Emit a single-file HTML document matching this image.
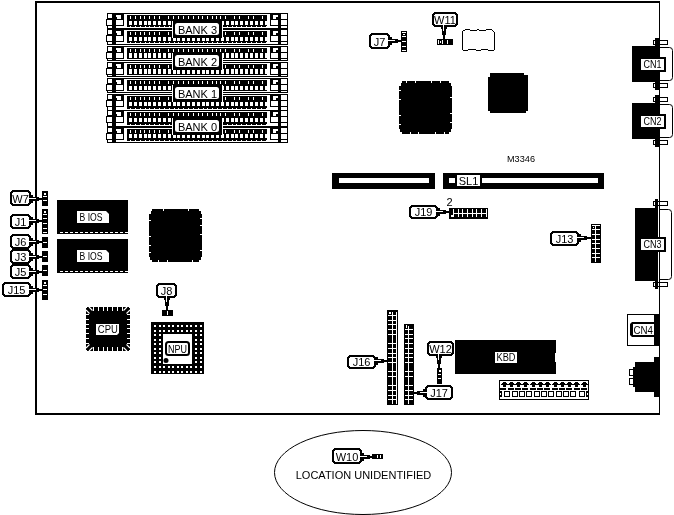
<!DOCTYPE html>
<html><head><meta charset="utf-8"><style>
html,body{margin:0;padding:0;background:#fff;width:674px;height:515px;overflow:hidden}
svg{display:block}
text{font-family:"Liberation Sans",sans-serif;fill:#000}
svg{will-change:transform}
</style></head><body>
<svg width="674" height="515" viewBox="0 0 674 515">
<rect x="35" y="1" width="625" height="2" fill="#000"/>
<rect x="35" y="1" width="2" height="414" fill="#000"/>
<rect x="659" y="1" width="1" height="414" fill="#000"/>
<rect x="35" y="413" width="625" height="2" fill="#000"/>
<rect x="107" y="13" width="181" height="1" fill="#000"/>
<rect x="112" y="14" width="175" height="14" fill="#fff"/>
<rect x="107" y="13" width="5" height="16" fill="#000"/>
<rect x="106" y="19" width="1" height="7" fill="#000"/>
<rect x="108" y="14" width="4" height="4" fill="#fff"/>
<rect x="107" y="20" width="5" height="5" fill="#fff"/>
<rect x="108" y="26" width="4" height="2" fill="#fff"/>
<rect x="112" y="13" width="4" height="15" fill="#000"/>
<rect x="116" y="13" width="8" height="13" fill="#000"/>
<rect x="116" y="15" width="5" height="2" fill="#fff"/>
<rect x="117" y="17" width="4" height="2" fill="#fff"/>
<rect x="116" y="20" width="7" height="5" fill="#fff"/>
<rect x="127" y="15" width="140" height="12" fill="#000"/>
<rect x="129" y="21" width="3" height="4" fill="#fff"/>
<rect x="130" y="26" width="1" height="1" fill="#fff"/>
<rect x="134" y="21" width="3" height="4" fill="#fff"/>
<rect x="135" y="26" width="1" height="1" fill="#fff"/>
<rect x="139" y="21" width="3" height="4" fill="#fff"/>
<rect x="140" y="26" width="1" height="1" fill="#fff"/>
<rect x="144" y="21" width="3" height="4" fill="#fff"/>
<rect x="145" y="26" width="1" height="1" fill="#fff"/>
<rect x="148" y="21" width="3" height="4" fill="#fff"/>
<rect x="149" y="26" width="1" height="1" fill="#fff"/>
<rect x="153" y="21" width="3" height="4" fill="#fff"/>
<rect x="154" y="26" width="1" height="1" fill="#fff"/>
<rect x="158" y="21" width="3" height="4" fill="#fff"/>
<rect x="159" y="26" width="1" height="1" fill="#fff"/>
<rect x="163" y="21" width="3" height="4" fill="#fff"/>
<rect x="164" y="26" width="1" height="1" fill="#fff"/>
<rect x="168" y="21" width="3" height="4" fill="#fff"/>
<rect x="169" y="26" width="1" height="1" fill="#fff"/>
<rect x="173" y="21" width="3" height="4" fill="#fff"/>
<rect x="174" y="26" width="1" height="1" fill="#fff"/>
<rect x="177" y="21" width="3" height="4" fill="#fff"/>
<rect x="178" y="26" width="1" height="1" fill="#fff"/>
<rect x="182" y="21" width="3" height="4" fill="#fff"/>
<rect x="183" y="26" width="1" height="1" fill="#fff"/>
<rect x="187" y="21" width="3" height="4" fill="#fff"/>
<rect x="188" y="26" width="1" height="1" fill="#fff"/>
<rect x="192" y="21" width="3" height="4" fill="#fff"/>
<rect x="193" y="26" width="1" height="1" fill="#fff"/>
<rect x="197" y="21" width="3" height="4" fill="#fff"/>
<rect x="198" y="26" width="1" height="1" fill="#fff"/>
<rect x="202" y="21" width="3" height="4" fill="#fff"/>
<rect x="203" y="26" width="1" height="1" fill="#fff"/>
<rect x="206" y="21" width="3" height="4" fill="#fff"/>
<rect x="207" y="26" width="1" height="1" fill="#fff"/>
<rect x="211" y="21" width="3" height="4" fill="#fff"/>
<rect x="212" y="26" width="1" height="1" fill="#fff"/>
<rect x="216" y="21" width="3" height="4" fill="#fff"/>
<rect x="217" y="26" width="1" height="1" fill="#fff"/>
<rect x="221" y="21" width="3" height="4" fill="#fff"/>
<rect x="222" y="26" width="1" height="1" fill="#fff"/>
<rect x="226" y="21" width="3" height="4" fill="#fff"/>
<rect x="227" y="26" width="1" height="1" fill="#fff"/>
<rect x="231" y="21" width="3" height="4" fill="#fff"/>
<rect x="232" y="26" width="1" height="1" fill="#fff"/>
<rect x="235" y="21" width="3" height="4" fill="#fff"/>
<rect x="236" y="26" width="1" height="1" fill="#fff"/>
<rect x="240" y="21" width="3" height="4" fill="#fff"/>
<rect x="241" y="26" width="1" height="1" fill="#fff"/>
<rect x="245" y="21" width="3" height="4" fill="#fff"/>
<rect x="246" y="26" width="1" height="1" fill="#fff"/>
<rect x="250" y="21" width="3" height="4" fill="#fff"/>
<rect x="251" y="26" width="1" height="1" fill="#fff"/>
<rect x="255" y="21" width="3" height="4" fill="#fff"/>
<rect x="256" y="26" width="1" height="1" fill="#fff"/>
<rect x="260" y="21" width="3" height="4" fill="#fff"/>
<rect x="261" y="26" width="1" height="1" fill="#fff"/>
<rect x="265" y="21" width="3" height="4" fill="#fff"/>
<rect x="266" y="26" width="1" height="1" fill="#fff"/>
<rect x="130" y="16" width="1" height="3" fill="#fff"/>
<rect x="135" y="16" width="1" height="3" fill="#fff"/>
<rect x="140" y="16" width="1" height="3" fill="#fff"/>
<rect x="144" y="16" width="1" height="3" fill="#fff"/>
<rect x="149" y="16" width="1" height="3" fill="#fff"/>
<rect x="154" y="16" width="1" height="3" fill="#fff"/>
<rect x="159" y="16" width="1" height="3" fill="#fff"/>
<rect x="168" y="16" width="1" height="3" fill="#fff"/>
<rect x="173" y="16" width="1" height="3" fill="#fff"/>
<rect x="178" y="16" width="1" height="3" fill="#fff"/>
<rect x="183" y="16" width="1" height="3" fill="#fff"/>
<rect x="188" y="16" width="1" height="3" fill="#fff"/>
<rect x="193" y="16" width="1" height="3" fill="#fff"/>
<rect x="198" y="16" width="1" height="3" fill="#fff"/>
<rect x="202" y="16" width="1" height="3" fill="#fff"/>
<rect x="207" y="16" width="1" height="3" fill="#fff"/>
<rect x="212" y="16" width="1" height="3" fill="#fff"/>
<rect x="216" y="16" width="1" height="3" fill="#fff"/>
<rect x="220" y="16" width="1" height="3" fill="#fff"/>
<rect x="225" y="16" width="1" height="3" fill="#fff"/>
<rect x="234" y="16" width="1" height="3" fill="#fff"/>
<rect x="239" y="16" width="1" height="3" fill="#fff"/>
<rect x="248" y="16" width="1" height="3" fill="#fff"/>
<rect x="253" y="16" width="1" height="3" fill="#fff"/>
<rect x="262" y="16" width="1" height="3" fill="#fff"/>
<rect x="270" y="13" width="8" height="13" fill="#000"/>
<rect x="273" y="15" width="5" height="2" fill="#fff"/>
<rect x="273" y="17" width="3" height="2" fill="#fff"/>
<rect x="271" y="20" width="7" height="5" fill="#fff"/>
<rect x="278" y="13" width="3" height="15" fill="#000"/>
<rect x="281" y="13" width="7" height="16" fill="#000"/>
<rect x="281" y="14" width="6" height="5" fill="#fff"/>
<rect x="281" y="20" width="6" height="5" fill="#fff"/>
<rect x="281" y="26" width="6" height="2" fill="#fff"/>
<rect x="107" y="28" width="181" height="1" fill="#000"/>
<rect x="107" y="29" width="181" height="1" fill="#000"/>
<rect x="112" y="30" width="175" height="14" fill="#fff"/>
<rect x="107" y="29" width="5" height="16" fill="#000"/>
<rect x="106" y="35" width="1" height="7" fill="#000"/>
<rect x="108" y="30" width="4" height="4" fill="#fff"/>
<rect x="107" y="36" width="5" height="5" fill="#fff"/>
<rect x="108" y="42" width="4" height="2" fill="#fff"/>
<rect x="112" y="29" width="4" height="15" fill="#000"/>
<rect x="116" y="29" width="8" height="13" fill="#000"/>
<rect x="116" y="31" width="5" height="2" fill="#fff"/>
<rect x="117" y="33" width="4" height="2" fill="#fff"/>
<rect x="116" y="36" width="7" height="5" fill="#fff"/>
<rect x="127" y="31" width="140" height="12" fill="#000"/>
<rect x="129" y="37" width="3" height="4" fill="#fff"/>
<rect x="130" y="42" width="1" height="1" fill="#fff"/>
<rect x="134" y="37" width="3" height="4" fill="#fff"/>
<rect x="135" y="42" width="1" height="1" fill="#fff"/>
<rect x="139" y="37" width="3" height="4" fill="#fff"/>
<rect x="140" y="42" width="1" height="1" fill="#fff"/>
<rect x="144" y="37" width="3" height="4" fill="#fff"/>
<rect x="145" y="42" width="1" height="1" fill="#fff"/>
<rect x="148" y="37" width="3" height="4" fill="#fff"/>
<rect x="149" y="42" width="1" height="1" fill="#fff"/>
<rect x="153" y="37" width="3" height="4" fill="#fff"/>
<rect x="154" y="42" width="1" height="1" fill="#fff"/>
<rect x="158" y="37" width="3" height="4" fill="#fff"/>
<rect x="159" y="42" width="1" height="1" fill="#fff"/>
<rect x="163" y="37" width="3" height="4" fill="#fff"/>
<rect x="164" y="42" width="1" height="1" fill="#fff"/>
<rect x="168" y="37" width="3" height="4" fill="#fff"/>
<rect x="169" y="42" width="1" height="1" fill="#fff"/>
<rect x="173" y="37" width="3" height="4" fill="#fff"/>
<rect x="174" y="42" width="1" height="1" fill="#fff"/>
<rect x="177" y="37" width="3" height="4" fill="#fff"/>
<rect x="178" y="42" width="1" height="1" fill="#fff"/>
<rect x="182" y="37" width="3" height="4" fill="#fff"/>
<rect x="183" y="42" width="1" height="1" fill="#fff"/>
<rect x="187" y="37" width="3" height="4" fill="#fff"/>
<rect x="188" y="42" width="1" height="1" fill="#fff"/>
<rect x="192" y="37" width="3" height="4" fill="#fff"/>
<rect x="193" y="42" width="1" height="1" fill="#fff"/>
<rect x="197" y="37" width="3" height="4" fill="#fff"/>
<rect x="198" y="42" width="1" height="1" fill="#fff"/>
<rect x="202" y="37" width="3" height="4" fill="#fff"/>
<rect x="203" y="42" width="1" height="1" fill="#fff"/>
<rect x="206" y="37" width="3" height="4" fill="#fff"/>
<rect x="207" y="42" width="1" height="1" fill="#fff"/>
<rect x="211" y="37" width="3" height="4" fill="#fff"/>
<rect x="212" y="42" width="1" height="1" fill="#fff"/>
<rect x="216" y="37" width="3" height="4" fill="#fff"/>
<rect x="217" y="42" width="1" height="1" fill="#fff"/>
<rect x="221" y="37" width="3" height="4" fill="#fff"/>
<rect x="222" y="42" width="1" height="1" fill="#fff"/>
<rect x="226" y="37" width="3" height="4" fill="#fff"/>
<rect x="227" y="42" width="1" height="1" fill="#fff"/>
<rect x="231" y="37" width="3" height="4" fill="#fff"/>
<rect x="232" y="42" width="1" height="1" fill="#fff"/>
<rect x="235" y="37" width="3" height="4" fill="#fff"/>
<rect x="236" y="42" width="1" height="1" fill="#fff"/>
<rect x="240" y="37" width="3" height="4" fill="#fff"/>
<rect x="241" y="42" width="1" height="1" fill="#fff"/>
<rect x="245" y="37" width="3" height="4" fill="#fff"/>
<rect x="246" y="42" width="1" height="1" fill="#fff"/>
<rect x="250" y="37" width="3" height="4" fill="#fff"/>
<rect x="251" y="42" width="1" height="1" fill="#fff"/>
<rect x="255" y="37" width="3" height="4" fill="#fff"/>
<rect x="256" y="42" width="1" height="1" fill="#fff"/>
<rect x="260" y="37" width="3" height="4" fill="#fff"/>
<rect x="261" y="42" width="1" height="1" fill="#fff"/>
<rect x="265" y="37" width="3" height="4" fill="#fff"/>
<rect x="266" y="42" width="1" height="1" fill="#fff"/>
<rect x="130" y="32" width="1" height="3" fill="#fff"/>
<rect x="135" y="32" width="1" height="3" fill="#fff"/>
<rect x="140" y="32" width="1" height="3" fill="#fff"/>
<rect x="144" y="32" width="1" height="3" fill="#fff"/>
<rect x="149" y="32" width="1" height="3" fill="#fff"/>
<rect x="154" y="32" width="1" height="3" fill="#fff"/>
<rect x="159" y="32" width="1" height="3" fill="#fff"/>
<rect x="168" y="32" width="1" height="3" fill="#fff"/>
<rect x="173" y="32" width="1" height="3" fill="#fff"/>
<rect x="178" y="32" width="1" height="3" fill="#fff"/>
<rect x="183" y="32" width="1" height="3" fill="#fff"/>
<rect x="188" y="32" width="1" height="3" fill="#fff"/>
<rect x="193" y="32" width="1" height="3" fill="#fff"/>
<rect x="198" y="32" width="1" height="3" fill="#fff"/>
<rect x="202" y="32" width="1" height="3" fill="#fff"/>
<rect x="207" y="32" width="1" height="3" fill="#fff"/>
<rect x="212" y="32" width="1" height="3" fill="#fff"/>
<rect x="216" y="32" width="1" height="3" fill="#fff"/>
<rect x="220" y="32" width="1" height="3" fill="#fff"/>
<rect x="225" y="32" width="1" height="3" fill="#fff"/>
<rect x="234" y="32" width="1" height="3" fill="#fff"/>
<rect x="239" y="32" width="1" height="3" fill="#fff"/>
<rect x="248" y="32" width="1" height="3" fill="#fff"/>
<rect x="253" y="32" width="1" height="3" fill="#fff"/>
<rect x="262" y="32" width="1" height="3" fill="#fff"/>
<rect x="270" y="29" width="8" height="13" fill="#000"/>
<rect x="273" y="31" width="5" height="2" fill="#fff"/>
<rect x="273" y="33" width="3" height="2" fill="#fff"/>
<rect x="271" y="36" width="7" height="5" fill="#fff"/>
<rect x="278" y="29" width="3" height="15" fill="#000"/>
<rect x="281" y="29" width="7" height="16" fill="#000"/>
<rect x="281" y="30" width="6" height="5" fill="#fff"/>
<rect x="281" y="36" width="6" height="5" fill="#fff"/>
<rect x="281" y="42" width="6" height="2" fill="#fff"/>
<rect x="107" y="44" width="181" height="1" fill="#000"/>
<rect x="107" y="28" width="181" height="2" fill="#000"/>
<rect x="107" y="46" width="181" height="1" fill="#000"/>
<rect x="112" y="47" width="175" height="13" fill="#fff"/>
<rect x="107" y="46" width="5" height="15" fill="#000"/>
<rect x="106" y="52" width="1" height="7" fill="#000"/>
<rect x="108" y="47" width="4" height="4" fill="#fff"/>
<rect x="107" y="53" width="5" height="5" fill="#fff"/>
<rect x="108" y="59" width="4" height="1" fill="#fff"/>
<rect x="112" y="46" width="4" height="14" fill="#000"/>
<rect x="116" y="46" width="8" height="13" fill="#000"/>
<rect x="116" y="48" width="5" height="2" fill="#fff"/>
<rect x="117" y="50" width="4" height="2" fill="#fff"/>
<rect x="116" y="53" width="7" height="5" fill="#fff"/>
<rect x="127" y="48" width="140" height="11" fill="#000"/>
<rect x="129" y="53" width="3" height="5" fill="#fff"/>
<rect x="134" y="53" width="3" height="5" fill="#fff"/>
<rect x="139" y="53" width="3" height="5" fill="#fff"/>
<rect x="144" y="53" width="3" height="5" fill="#fff"/>
<rect x="148" y="53" width="3" height="5" fill="#fff"/>
<rect x="153" y="53" width="3" height="5" fill="#fff"/>
<rect x="158" y="53" width="3" height="5" fill="#fff"/>
<rect x="163" y="53" width="3" height="5" fill="#fff"/>
<rect x="168" y="53" width="3" height="5" fill="#fff"/>
<rect x="173" y="53" width="3" height="5" fill="#fff"/>
<rect x="177" y="53" width="3" height="5" fill="#fff"/>
<rect x="182" y="53" width="3" height="5" fill="#fff"/>
<rect x="187" y="53" width="3" height="5" fill="#fff"/>
<rect x="192" y="53" width="3" height="5" fill="#fff"/>
<rect x="197" y="53" width="3" height="5" fill="#fff"/>
<rect x="202" y="53" width="3" height="5" fill="#fff"/>
<rect x="206" y="53" width="3" height="5" fill="#fff"/>
<rect x="211" y="53" width="3" height="5" fill="#fff"/>
<rect x="216" y="53" width="3" height="5" fill="#fff"/>
<rect x="221" y="53" width="3" height="5" fill="#fff"/>
<rect x="226" y="53" width="3" height="5" fill="#fff"/>
<rect x="231" y="53" width="3" height="5" fill="#fff"/>
<rect x="235" y="53" width="3" height="5" fill="#fff"/>
<rect x="240" y="53" width="3" height="5" fill="#fff"/>
<rect x="245" y="53" width="3" height="5" fill="#fff"/>
<rect x="250" y="53" width="3" height="5" fill="#fff"/>
<rect x="255" y="53" width="3" height="5" fill="#fff"/>
<rect x="260" y="53" width="3" height="5" fill="#fff"/>
<rect x="265" y="53" width="3" height="5" fill="#fff"/>
<rect x="130" y="49" width="1" height="3" fill="#fff"/>
<rect x="135" y="49" width="1" height="3" fill="#fff"/>
<rect x="140" y="49" width="1" height="3" fill="#fff"/>
<rect x="144" y="49" width="1" height="3" fill="#fff"/>
<rect x="149" y="49" width="1" height="3" fill="#fff"/>
<rect x="154" y="49" width="1" height="3" fill="#fff"/>
<rect x="159" y="49" width="1" height="3" fill="#fff"/>
<rect x="168" y="49" width="1" height="3" fill="#fff"/>
<rect x="173" y="49" width="1" height="3" fill="#fff"/>
<rect x="178" y="49" width="1" height="3" fill="#fff"/>
<rect x="183" y="49" width="1" height="3" fill="#fff"/>
<rect x="188" y="49" width="1" height="3" fill="#fff"/>
<rect x="193" y="49" width="1" height="3" fill="#fff"/>
<rect x="198" y="49" width="1" height="3" fill="#fff"/>
<rect x="202" y="49" width="1" height="3" fill="#fff"/>
<rect x="207" y="49" width="1" height="3" fill="#fff"/>
<rect x="212" y="49" width="1" height="3" fill="#fff"/>
<rect x="216" y="49" width="1" height="3" fill="#fff"/>
<rect x="220" y="49" width="1" height="3" fill="#fff"/>
<rect x="225" y="49" width="1" height="3" fill="#fff"/>
<rect x="234" y="49" width="1" height="3" fill="#fff"/>
<rect x="239" y="49" width="1" height="3" fill="#fff"/>
<rect x="248" y="49" width="1" height="3" fill="#fff"/>
<rect x="253" y="49" width="1" height="3" fill="#fff"/>
<rect x="262" y="49" width="1" height="3" fill="#fff"/>
<rect x="270" y="46" width="8" height="13" fill="#000"/>
<rect x="273" y="48" width="5" height="2" fill="#fff"/>
<rect x="273" y="50" width="3" height="2" fill="#fff"/>
<rect x="271" y="53" width="7" height="5" fill="#fff"/>
<rect x="278" y="46" width="3" height="14" fill="#000"/>
<rect x="281" y="46" width="7" height="15" fill="#000"/>
<rect x="281" y="47" width="6" height="5" fill="#fff"/>
<rect x="281" y="53" width="6" height="5" fill="#fff"/>
<rect x="281" y="59" width="6" height="1" fill="#fff"/>
<rect x="107" y="60" width="181" height="1" fill="#000"/>
<rect x="107" y="62" width="181" height="1" fill="#000"/>
<rect x="112" y="63" width="175" height="13" fill="#fff"/>
<rect x="107" y="62" width="5" height="15" fill="#000"/>
<rect x="106" y="68" width="1" height="7" fill="#000"/>
<rect x="108" y="63" width="4" height="4" fill="#fff"/>
<rect x="107" y="69" width="5" height="5" fill="#fff"/>
<rect x="108" y="75" width="4" height="1" fill="#fff"/>
<rect x="112" y="62" width="4" height="14" fill="#000"/>
<rect x="116" y="62" width="8" height="13" fill="#000"/>
<rect x="116" y="64" width="5" height="2" fill="#fff"/>
<rect x="117" y="66" width="4" height="2" fill="#fff"/>
<rect x="116" y="69" width="7" height="5" fill="#fff"/>
<rect x="127" y="64" width="140" height="11" fill="#000"/>
<rect x="129" y="69" width="3" height="5" fill="#fff"/>
<rect x="134" y="69" width="3" height="5" fill="#fff"/>
<rect x="139" y="69" width="3" height="5" fill="#fff"/>
<rect x="144" y="69" width="3" height="5" fill="#fff"/>
<rect x="148" y="69" width="3" height="5" fill="#fff"/>
<rect x="153" y="69" width="3" height="5" fill="#fff"/>
<rect x="158" y="69" width="3" height="5" fill="#fff"/>
<rect x="163" y="69" width="3" height="5" fill="#fff"/>
<rect x="168" y="69" width="3" height="5" fill="#fff"/>
<rect x="173" y="69" width="3" height="5" fill="#fff"/>
<rect x="177" y="69" width="3" height="5" fill="#fff"/>
<rect x="182" y="69" width="3" height="5" fill="#fff"/>
<rect x="187" y="69" width="3" height="5" fill="#fff"/>
<rect x="192" y="69" width="3" height="5" fill="#fff"/>
<rect x="197" y="69" width="3" height="5" fill="#fff"/>
<rect x="202" y="69" width="3" height="5" fill="#fff"/>
<rect x="206" y="69" width="3" height="5" fill="#fff"/>
<rect x="211" y="69" width="3" height="5" fill="#fff"/>
<rect x="216" y="69" width="3" height="5" fill="#fff"/>
<rect x="221" y="69" width="3" height="5" fill="#fff"/>
<rect x="226" y="69" width="3" height="5" fill="#fff"/>
<rect x="231" y="69" width="3" height="5" fill="#fff"/>
<rect x="235" y="69" width="3" height="5" fill="#fff"/>
<rect x="240" y="69" width="3" height="5" fill="#fff"/>
<rect x="245" y="69" width="3" height="5" fill="#fff"/>
<rect x="250" y="69" width="3" height="5" fill="#fff"/>
<rect x="255" y="69" width="3" height="5" fill="#fff"/>
<rect x="260" y="69" width="3" height="5" fill="#fff"/>
<rect x="265" y="69" width="3" height="5" fill="#fff"/>
<rect x="130" y="65" width="1" height="3" fill="#fff"/>
<rect x="135" y="65" width="1" height="3" fill="#fff"/>
<rect x="140" y="65" width="1" height="3" fill="#fff"/>
<rect x="144" y="65" width="1" height="3" fill="#fff"/>
<rect x="149" y="65" width="1" height="3" fill="#fff"/>
<rect x="154" y="65" width="1" height="3" fill="#fff"/>
<rect x="159" y="65" width="1" height="3" fill="#fff"/>
<rect x="168" y="65" width="1" height="3" fill="#fff"/>
<rect x="173" y="65" width="1" height="3" fill="#fff"/>
<rect x="178" y="65" width="1" height="3" fill="#fff"/>
<rect x="183" y="65" width="1" height="3" fill="#fff"/>
<rect x="188" y="65" width="1" height="3" fill="#fff"/>
<rect x="193" y="65" width="1" height="3" fill="#fff"/>
<rect x="198" y="65" width="1" height="3" fill="#fff"/>
<rect x="202" y="65" width="1" height="3" fill="#fff"/>
<rect x="207" y="65" width="1" height="3" fill="#fff"/>
<rect x="212" y="65" width="1" height="3" fill="#fff"/>
<rect x="216" y="65" width="1" height="3" fill="#fff"/>
<rect x="220" y="65" width="1" height="3" fill="#fff"/>
<rect x="225" y="65" width="1" height="3" fill="#fff"/>
<rect x="234" y="65" width="1" height="3" fill="#fff"/>
<rect x="239" y="65" width="1" height="3" fill="#fff"/>
<rect x="248" y="65" width="1" height="3" fill="#fff"/>
<rect x="253" y="65" width="1" height="3" fill="#fff"/>
<rect x="262" y="65" width="1" height="3" fill="#fff"/>
<rect x="270" y="62" width="8" height="13" fill="#000"/>
<rect x="273" y="64" width="5" height="2" fill="#fff"/>
<rect x="273" y="66" width="3" height="2" fill="#fff"/>
<rect x="271" y="69" width="7" height="5" fill="#fff"/>
<rect x="278" y="62" width="3" height="14" fill="#000"/>
<rect x="281" y="62" width="7" height="15" fill="#000"/>
<rect x="281" y="63" width="6" height="5" fill="#fff"/>
<rect x="281" y="69" width="6" height="5" fill="#fff"/>
<rect x="281" y="75" width="6" height="1" fill="#fff"/>
<rect x="107" y="76" width="181" height="1" fill="#000"/>
<rect x="107" y="60" width="181" height="1" fill="#000"/>
<rect x="113" y="61" width="174" height="1" fill="#fff"/>
<rect x="107" y="78" width="181" height="1" fill="#000"/>
<rect x="112" y="79" width="175" height="13" fill="#fff"/>
<rect x="107" y="78" width="5" height="15" fill="#000"/>
<rect x="106" y="84" width="1" height="7" fill="#000"/>
<rect x="108" y="79" width="4" height="4" fill="#fff"/>
<rect x="107" y="85" width="5" height="5" fill="#fff"/>
<rect x="108" y="91" width="4" height="1" fill="#fff"/>
<rect x="112" y="78" width="4" height="14" fill="#000"/>
<rect x="116" y="78" width="8" height="13" fill="#000"/>
<rect x="116" y="80" width="5" height="2" fill="#fff"/>
<rect x="117" y="82" width="4" height="2" fill="#fff"/>
<rect x="116" y="85" width="7" height="5" fill="#fff"/>
<rect x="127" y="80" width="140" height="11" fill="#000"/>
<rect x="129" y="86" width="3" height="4" fill="#fff"/>
<rect x="134" y="86" width="3" height="4" fill="#fff"/>
<rect x="139" y="86" width="3" height="4" fill="#fff"/>
<rect x="144" y="86" width="3" height="4" fill="#fff"/>
<rect x="148" y="86" width="3" height="4" fill="#fff"/>
<rect x="153" y="86" width="3" height="4" fill="#fff"/>
<rect x="158" y="86" width="3" height="4" fill="#fff"/>
<rect x="163" y="86" width="3" height="4" fill="#fff"/>
<rect x="168" y="86" width="3" height="4" fill="#fff"/>
<rect x="173" y="86" width="3" height="4" fill="#fff"/>
<rect x="177" y="86" width="3" height="4" fill="#fff"/>
<rect x="182" y="86" width="3" height="4" fill="#fff"/>
<rect x="187" y="86" width="3" height="4" fill="#fff"/>
<rect x="192" y="86" width="3" height="4" fill="#fff"/>
<rect x="197" y="86" width="3" height="4" fill="#fff"/>
<rect x="202" y="86" width="3" height="4" fill="#fff"/>
<rect x="206" y="86" width="3" height="4" fill="#fff"/>
<rect x="211" y="86" width="3" height="4" fill="#fff"/>
<rect x="216" y="86" width="3" height="4" fill="#fff"/>
<rect x="221" y="86" width="3" height="4" fill="#fff"/>
<rect x="226" y="86" width="3" height="4" fill="#fff"/>
<rect x="231" y="86" width="3" height="4" fill="#fff"/>
<rect x="235" y="86" width="3" height="4" fill="#fff"/>
<rect x="240" y="86" width="3" height="4" fill="#fff"/>
<rect x="245" y="86" width="3" height="4" fill="#fff"/>
<rect x="250" y="86" width="3" height="4" fill="#fff"/>
<rect x="255" y="86" width="3" height="4" fill="#fff"/>
<rect x="260" y="86" width="3" height="4" fill="#fff"/>
<rect x="265" y="86" width="3" height="4" fill="#fff"/>
<rect x="130" y="81" width="1" height="3" fill="#fff"/>
<rect x="135" y="81" width="1" height="3" fill="#fff"/>
<rect x="140" y="81" width="1" height="3" fill="#fff"/>
<rect x="144" y="81" width="1" height="3" fill="#fff"/>
<rect x="149" y="81" width="1" height="3" fill="#fff"/>
<rect x="154" y="81" width="1" height="3" fill="#fff"/>
<rect x="159" y="81" width="1" height="3" fill="#fff"/>
<rect x="168" y="81" width="1" height="3" fill="#fff"/>
<rect x="173" y="81" width="1" height="3" fill="#fff"/>
<rect x="178" y="81" width="1" height="3" fill="#fff"/>
<rect x="183" y="81" width="1" height="3" fill="#fff"/>
<rect x="188" y="81" width="1" height="3" fill="#fff"/>
<rect x="193" y="81" width="1" height="3" fill="#fff"/>
<rect x="198" y="81" width="1" height="3" fill="#fff"/>
<rect x="202" y="81" width="1" height="3" fill="#fff"/>
<rect x="207" y="81" width="1" height="3" fill="#fff"/>
<rect x="212" y="81" width="1" height="3" fill="#fff"/>
<rect x="216" y="81" width="1" height="3" fill="#fff"/>
<rect x="220" y="81" width="1" height="3" fill="#fff"/>
<rect x="225" y="81" width="1" height="3" fill="#fff"/>
<rect x="234" y="81" width="1" height="3" fill="#fff"/>
<rect x="239" y="81" width="1" height="3" fill="#fff"/>
<rect x="248" y="81" width="1" height="3" fill="#fff"/>
<rect x="253" y="81" width="1" height="3" fill="#fff"/>
<rect x="262" y="81" width="1" height="3" fill="#fff"/>
<rect x="270" y="78" width="8" height="13" fill="#000"/>
<rect x="273" y="80" width="5" height="2" fill="#fff"/>
<rect x="273" y="82" width="3" height="2" fill="#fff"/>
<rect x="271" y="85" width="7" height="5" fill="#fff"/>
<rect x="278" y="78" width="3" height="14" fill="#000"/>
<rect x="281" y="78" width="7" height="15" fill="#000"/>
<rect x="281" y="79" width="6" height="5" fill="#fff"/>
<rect x="281" y="85" width="6" height="5" fill="#fff"/>
<rect x="281" y="91" width="6" height="1" fill="#fff"/>
<rect x="107" y="92" width="181" height="1" fill="#000"/>
<rect x="107" y="94" width="181" height="1" fill="#000"/>
<rect x="112" y="95" width="175" height="15" fill="#fff"/>
<rect x="107" y="94" width="5" height="17" fill="#000"/>
<rect x="106" y="100" width="1" height="7" fill="#000"/>
<rect x="108" y="95" width="4" height="4" fill="#fff"/>
<rect x="107" y="101" width="5" height="5" fill="#fff"/>
<rect x="108" y="107" width="4" height="3" fill="#fff"/>
<rect x="112" y="94" width="4" height="16" fill="#000"/>
<rect x="116" y="94" width="8" height="13" fill="#000"/>
<rect x="116" y="96" width="5" height="2" fill="#fff"/>
<rect x="117" y="98" width="4" height="2" fill="#fff"/>
<rect x="116" y="101" width="7" height="5" fill="#fff"/>
<rect x="127" y="96" width="140" height="13" fill="#000"/>
<rect x="129" y="102" width="3" height="4" fill="#fff"/>
<rect x="130" y="108" width="1" height="1" fill="#fff"/>
<rect x="134" y="102" width="3" height="4" fill="#fff"/>
<rect x="135" y="108" width="1" height="1" fill="#fff"/>
<rect x="139" y="102" width="3" height="4" fill="#fff"/>
<rect x="140" y="108" width="1" height="1" fill="#fff"/>
<rect x="144" y="102" width="3" height="4" fill="#fff"/>
<rect x="145" y="108" width="1" height="1" fill="#fff"/>
<rect x="148" y="102" width="3" height="4" fill="#fff"/>
<rect x="149" y="108" width="1" height="1" fill="#fff"/>
<rect x="153" y="102" width="3" height="4" fill="#fff"/>
<rect x="154" y="108" width="1" height="1" fill="#fff"/>
<rect x="158" y="102" width="3" height="4" fill="#fff"/>
<rect x="159" y="108" width="1" height="1" fill="#fff"/>
<rect x="163" y="102" width="3" height="4" fill="#fff"/>
<rect x="164" y="108" width="1" height="1" fill="#fff"/>
<rect x="168" y="102" width="3" height="4" fill="#fff"/>
<rect x="169" y="108" width="1" height="1" fill="#fff"/>
<rect x="173" y="102" width="3" height="4" fill="#fff"/>
<rect x="174" y="108" width="1" height="1" fill="#fff"/>
<rect x="177" y="102" width="3" height="4" fill="#fff"/>
<rect x="178" y="108" width="1" height="1" fill="#fff"/>
<rect x="182" y="102" width="3" height="4" fill="#fff"/>
<rect x="183" y="108" width="1" height="1" fill="#fff"/>
<rect x="187" y="102" width="3" height="4" fill="#fff"/>
<rect x="188" y="108" width="1" height="1" fill="#fff"/>
<rect x="192" y="102" width="3" height="4" fill="#fff"/>
<rect x="193" y="108" width="1" height="1" fill="#fff"/>
<rect x="197" y="102" width="3" height="4" fill="#fff"/>
<rect x="198" y="108" width="1" height="1" fill="#fff"/>
<rect x="202" y="102" width="3" height="4" fill="#fff"/>
<rect x="203" y="108" width="1" height="1" fill="#fff"/>
<rect x="206" y="102" width="3" height="4" fill="#fff"/>
<rect x="207" y="108" width="1" height="1" fill="#fff"/>
<rect x="211" y="102" width="3" height="4" fill="#fff"/>
<rect x="212" y="108" width="1" height="1" fill="#fff"/>
<rect x="216" y="102" width="3" height="4" fill="#fff"/>
<rect x="217" y="108" width="1" height="1" fill="#fff"/>
<rect x="221" y="102" width="3" height="4" fill="#fff"/>
<rect x="222" y="108" width="1" height="1" fill="#fff"/>
<rect x="226" y="102" width="3" height="4" fill="#fff"/>
<rect x="227" y="108" width="1" height="1" fill="#fff"/>
<rect x="231" y="102" width="3" height="4" fill="#fff"/>
<rect x="232" y="108" width="1" height="1" fill="#fff"/>
<rect x="235" y="102" width="3" height="4" fill="#fff"/>
<rect x="236" y="108" width="1" height="1" fill="#fff"/>
<rect x="240" y="102" width="3" height="4" fill="#fff"/>
<rect x="241" y="108" width="1" height="1" fill="#fff"/>
<rect x="245" y="102" width="3" height="4" fill="#fff"/>
<rect x="246" y="108" width="1" height="1" fill="#fff"/>
<rect x="250" y="102" width="3" height="4" fill="#fff"/>
<rect x="251" y="108" width="1" height="1" fill="#fff"/>
<rect x="255" y="102" width="3" height="4" fill="#fff"/>
<rect x="256" y="108" width="1" height="1" fill="#fff"/>
<rect x="260" y="102" width="3" height="4" fill="#fff"/>
<rect x="261" y="108" width="1" height="1" fill="#fff"/>
<rect x="265" y="102" width="3" height="4" fill="#fff"/>
<rect x="266" y="108" width="1" height="1" fill="#fff"/>
<rect x="130" y="97" width="1" height="3" fill="#fff"/>
<rect x="135" y="97" width="1" height="3" fill="#fff"/>
<rect x="140" y="97" width="1" height="3" fill="#fff"/>
<rect x="144" y="97" width="1" height="3" fill="#fff"/>
<rect x="149" y="97" width="1" height="3" fill="#fff"/>
<rect x="154" y="97" width="1" height="3" fill="#fff"/>
<rect x="159" y="97" width="1" height="3" fill="#fff"/>
<rect x="168" y="97" width="1" height="3" fill="#fff"/>
<rect x="173" y="97" width="1" height="3" fill="#fff"/>
<rect x="178" y="97" width="1" height="3" fill="#fff"/>
<rect x="183" y="97" width="1" height="3" fill="#fff"/>
<rect x="188" y="97" width="1" height="3" fill="#fff"/>
<rect x="193" y="97" width="1" height="3" fill="#fff"/>
<rect x="198" y="97" width="1" height="3" fill="#fff"/>
<rect x="202" y="97" width="1" height="3" fill="#fff"/>
<rect x="207" y="97" width="1" height="3" fill="#fff"/>
<rect x="212" y="97" width="1" height="3" fill="#fff"/>
<rect x="216" y="97" width="1" height="3" fill="#fff"/>
<rect x="220" y="97" width="1" height="3" fill="#fff"/>
<rect x="225" y="97" width="1" height="3" fill="#fff"/>
<rect x="234" y="97" width="1" height="3" fill="#fff"/>
<rect x="239" y="97" width="1" height="3" fill="#fff"/>
<rect x="248" y="97" width="1" height="3" fill="#fff"/>
<rect x="253" y="97" width="1" height="3" fill="#fff"/>
<rect x="262" y="97" width="1" height="3" fill="#fff"/>
<rect x="270" y="94" width="8" height="13" fill="#000"/>
<rect x="273" y="96" width="5" height="2" fill="#fff"/>
<rect x="273" y="98" width="3" height="2" fill="#fff"/>
<rect x="271" y="101" width="7" height="5" fill="#fff"/>
<rect x="278" y="94" width="3" height="16" fill="#000"/>
<rect x="281" y="94" width="7" height="17" fill="#000"/>
<rect x="281" y="95" width="6" height="5" fill="#fff"/>
<rect x="281" y="101" width="6" height="5" fill="#fff"/>
<rect x="281" y="107" width="6" height="3" fill="#fff"/>
<rect x="107" y="110" width="181" height="1" fill="#000"/>
<rect x="107" y="92" width="181" height="1" fill="#000"/>
<rect x="113" y="93" width="174" height="1" fill="#fff"/>
<rect x="107" y="110" width="181" height="1" fill="#000"/>
<rect x="112" y="111" width="175" height="15" fill="#fff"/>
<rect x="107" y="110" width="5" height="17" fill="#000"/>
<rect x="106" y="116" width="1" height="7" fill="#000"/>
<rect x="108" y="111" width="4" height="4" fill="#fff"/>
<rect x="107" y="117" width="5" height="5" fill="#fff"/>
<rect x="108" y="123" width="4" height="3" fill="#fff"/>
<rect x="112" y="110" width="4" height="16" fill="#000"/>
<rect x="116" y="110" width="8" height="13" fill="#000"/>
<rect x="116" y="112" width="5" height="2" fill="#fff"/>
<rect x="117" y="114" width="4" height="2" fill="#fff"/>
<rect x="116" y="117" width="7" height="5" fill="#fff"/>
<rect x="127" y="112" width="140" height="13" fill="#000"/>
<rect x="129" y="118" width="3" height="4" fill="#fff"/>
<rect x="130" y="124" width="1" height="1" fill="#fff"/>
<rect x="134" y="118" width="3" height="4" fill="#fff"/>
<rect x="135" y="124" width="1" height="1" fill="#fff"/>
<rect x="139" y="118" width="3" height="4" fill="#fff"/>
<rect x="140" y="124" width="1" height="1" fill="#fff"/>
<rect x="144" y="118" width="3" height="4" fill="#fff"/>
<rect x="145" y="124" width="1" height="1" fill="#fff"/>
<rect x="148" y="118" width="3" height="4" fill="#fff"/>
<rect x="149" y="124" width="1" height="1" fill="#fff"/>
<rect x="153" y="118" width="3" height="4" fill="#fff"/>
<rect x="154" y="124" width="1" height="1" fill="#fff"/>
<rect x="158" y="118" width="3" height="4" fill="#fff"/>
<rect x="159" y="124" width="1" height="1" fill="#fff"/>
<rect x="163" y="118" width="3" height="4" fill="#fff"/>
<rect x="164" y="124" width="1" height="1" fill="#fff"/>
<rect x="168" y="118" width="3" height="4" fill="#fff"/>
<rect x="169" y="124" width="1" height="1" fill="#fff"/>
<rect x="173" y="118" width="3" height="4" fill="#fff"/>
<rect x="174" y="124" width="1" height="1" fill="#fff"/>
<rect x="177" y="118" width="3" height="4" fill="#fff"/>
<rect x="178" y="124" width="1" height="1" fill="#fff"/>
<rect x="182" y="118" width="3" height="4" fill="#fff"/>
<rect x="183" y="124" width="1" height="1" fill="#fff"/>
<rect x="187" y="118" width="3" height="4" fill="#fff"/>
<rect x="188" y="124" width="1" height="1" fill="#fff"/>
<rect x="192" y="118" width="3" height="4" fill="#fff"/>
<rect x="193" y="124" width="1" height="1" fill="#fff"/>
<rect x="197" y="118" width="3" height="4" fill="#fff"/>
<rect x="198" y="124" width="1" height="1" fill="#fff"/>
<rect x="202" y="118" width="3" height="4" fill="#fff"/>
<rect x="203" y="124" width="1" height="1" fill="#fff"/>
<rect x="206" y="118" width="3" height="4" fill="#fff"/>
<rect x="207" y="124" width="1" height="1" fill="#fff"/>
<rect x="211" y="118" width="3" height="4" fill="#fff"/>
<rect x="212" y="124" width="1" height="1" fill="#fff"/>
<rect x="216" y="118" width="3" height="4" fill="#fff"/>
<rect x="217" y="124" width="1" height="1" fill="#fff"/>
<rect x="221" y="118" width="3" height="4" fill="#fff"/>
<rect x="222" y="124" width="1" height="1" fill="#fff"/>
<rect x="226" y="118" width="3" height="4" fill="#fff"/>
<rect x="227" y="124" width="1" height="1" fill="#fff"/>
<rect x="231" y="118" width="3" height="4" fill="#fff"/>
<rect x="232" y="124" width="1" height="1" fill="#fff"/>
<rect x="235" y="118" width="3" height="4" fill="#fff"/>
<rect x="236" y="124" width="1" height="1" fill="#fff"/>
<rect x="240" y="118" width="3" height="4" fill="#fff"/>
<rect x="241" y="124" width="1" height="1" fill="#fff"/>
<rect x="245" y="118" width="3" height="4" fill="#fff"/>
<rect x="246" y="124" width="1" height="1" fill="#fff"/>
<rect x="250" y="118" width="3" height="4" fill="#fff"/>
<rect x="251" y="124" width="1" height="1" fill="#fff"/>
<rect x="255" y="118" width="3" height="4" fill="#fff"/>
<rect x="256" y="124" width="1" height="1" fill="#fff"/>
<rect x="260" y="118" width="3" height="4" fill="#fff"/>
<rect x="261" y="124" width="1" height="1" fill="#fff"/>
<rect x="265" y="118" width="3" height="4" fill="#fff"/>
<rect x="266" y="124" width="1" height="1" fill="#fff"/>
<rect x="130" y="113" width="1" height="3" fill="#fff"/>
<rect x="135" y="113" width="1" height="3" fill="#fff"/>
<rect x="140" y="113" width="1" height="3" fill="#fff"/>
<rect x="144" y="113" width="1" height="3" fill="#fff"/>
<rect x="149" y="113" width="1" height="3" fill="#fff"/>
<rect x="154" y="113" width="1" height="3" fill="#fff"/>
<rect x="159" y="113" width="1" height="3" fill="#fff"/>
<rect x="168" y="113" width="1" height="3" fill="#fff"/>
<rect x="173" y="113" width="1" height="3" fill="#fff"/>
<rect x="178" y="113" width="1" height="3" fill="#fff"/>
<rect x="183" y="113" width="1" height="3" fill="#fff"/>
<rect x="188" y="113" width="1" height="3" fill="#fff"/>
<rect x="193" y="113" width="1" height="3" fill="#fff"/>
<rect x="198" y="113" width="1" height="3" fill="#fff"/>
<rect x="202" y="113" width="1" height="3" fill="#fff"/>
<rect x="207" y="113" width="1" height="3" fill="#fff"/>
<rect x="212" y="113" width="1" height="3" fill="#fff"/>
<rect x="216" y="113" width="1" height="3" fill="#fff"/>
<rect x="220" y="113" width="1" height="3" fill="#fff"/>
<rect x="225" y="113" width="1" height="3" fill="#fff"/>
<rect x="234" y="113" width="1" height="3" fill="#fff"/>
<rect x="239" y="113" width="1" height="3" fill="#fff"/>
<rect x="248" y="113" width="1" height="3" fill="#fff"/>
<rect x="253" y="113" width="1" height="3" fill="#fff"/>
<rect x="262" y="113" width="1" height="3" fill="#fff"/>
<rect x="270" y="110" width="8" height="13" fill="#000"/>
<rect x="273" y="112" width="5" height="2" fill="#fff"/>
<rect x="273" y="114" width="3" height="2" fill="#fff"/>
<rect x="271" y="117" width="7" height="5" fill="#fff"/>
<rect x="278" y="110" width="3" height="16" fill="#000"/>
<rect x="281" y="110" width="7" height="17" fill="#000"/>
<rect x="281" y="111" width="6" height="5" fill="#fff"/>
<rect x="281" y="117" width="6" height="5" fill="#fff"/>
<rect x="281" y="123" width="6" height="3" fill="#fff"/>
<rect x="107" y="126" width="181" height="1" fill="#000"/>
<rect x="107" y="127" width="181" height="1" fill="#000"/>
<rect x="112" y="128" width="175" height="14" fill="#fff"/>
<rect x="107" y="127" width="5" height="16" fill="#000"/>
<rect x="106" y="133" width="1" height="7" fill="#000"/>
<rect x="108" y="128" width="4" height="4" fill="#fff"/>
<rect x="107" y="134" width="5" height="5" fill="#fff"/>
<rect x="108" y="140" width="4" height="2" fill="#fff"/>
<rect x="112" y="127" width="4" height="15" fill="#000"/>
<rect x="116" y="127" width="8" height="13" fill="#000"/>
<rect x="116" y="129" width="5" height="2" fill="#fff"/>
<rect x="117" y="131" width="4" height="2" fill="#fff"/>
<rect x="116" y="134" width="7" height="5" fill="#fff"/>
<rect x="127" y="129" width="140" height="12" fill="#000"/>
<rect x="129" y="134" width="3" height="4" fill="#fff"/>
<rect x="130" y="140" width="1" height="1" fill="#fff"/>
<rect x="134" y="134" width="3" height="4" fill="#fff"/>
<rect x="135" y="140" width="1" height="1" fill="#fff"/>
<rect x="139" y="134" width="3" height="4" fill="#fff"/>
<rect x="140" y="140" width="1" height="1" fill="#fff"/>
<rect x="144" y="134" width="3" height="4" fill="#fff"/>
<rect x="145" y="140" width="1" height="1" fill="#fff"/>
<rect x="148" y="134" width="3" height="4" fill="#fff"/>
<rect x="149" y="140" width="1" height="1" fill="#fff"/>
<rect x="153" y="134" width="3" height="4" fill="#fff"/>
<rect x="154" y="140" width="1" height="1" fill="#fff"/>
<rect x="158" y="134" width="3" height="4" fill="#fff"/>
<rect x="159" y="140" width="1" height="1" fill="#fff"/>
<rect x="163" y="134" width="3" height="4" fill="#fff"/>
<rect x="164" y="140" width="1" height="1" fill="#fff"/>
<rect x="168" y="134" width="3" height="4" fill="#fff"/>
<rect x="169" y="140" width="1" height="1" fill="#fff"/>
<rect x="173" y="134" width="3" height="4" fill="#fff"/>
<rect x="174" y="140" width="1" height="1" fill="#fff"/>
<rect x="177" y="134" width="3" height="4" fill="#fff"/>
<rect x="178" y="140" width="1" height="1" fill="#fff"/>
<rect x="182" y="134" width="3" height="4" fill="#fff"/>
<rect x="183" y="140" width="1" height="1" fill="#fff"/>
<rect x="187" y="134" width="3" height="4" fill="#fff"/>
<rect x="188" y="140" width="1" height="1" fill="#fff"/>
<rect x="192" y="134" width="3" height="4" fill="#fff"/>
<rect x="193" y="140" width="1" height="1" fill="#fff"/>
<rect x="197" y="134" width="3" height="4" fill="#fff"/>
<rect x="198" y="140" width="1" height="1" fill="#fff"/>
<rect x="202" y="134" width="3" height="4" fill="#fff"/>
<rect x="203" y="140" width="1" height="1" fill="#fff"/>
<rect x="206" y="134" width="3" height="4" fill="#fff"/>
<rect x="207" y="140" width="1" height="1" fill="#fff"/>
<rect x="211" y="134" width="3" height="4" fill="#fff"/>
<rect x="212" y="140" width="1" height="1" fill="#fff"/>
<rect x="216" y="134" width="3" height="4" fill="#fff"/>
<rect x="217" y="140" width="1" height="1" fill="#fff"/>
<rect x="221" y="134" width="3" height="4" fill="#fff"/>
<rect x="222" y="140" width="1" height="1" fill="#fff"/>
<rect x="226" y="134" width="3" height="4" fill="#fff"/>
<rect x="227" y="140" width="1" height="1" fill="#fff"/>
<rect x="231" y="134" width="3" height="4" fill="#fff"/>
<rect x="232" y="140" width="1" height="1" fill="#fff"/>
<rect x="235" y="134" width="3" height="4" fill="#fff"/>
<rect x="236" y="140" width="1" height="1" fill="#fff"/>
<rect x="240" y="134" width="3" height="4" fill="#fff"/>
<rect x="241" y="140" width="1" height="1" fill="#fff"/>
<rect x="245" y="134" width="3" height="4" fill="#fff"/>
<rect x="246" y="140" width="1" height="1" fill="#fff"/>
<rect x="250" y="134" width="3" height="4" fill="#fff"/>
<rect x="251" y="140" width="1" height="1" fill="#fff"/>
<rect x="255" y="134" width="3" height="4" fill="#fff"/>
<rect x="256" y="140" width="1" height="1" fill="#fff"/>
<rect x="260" y="134" width="3" height="4" fill="#fff"/>
<rect x="261" y="140" width="1" height="1" fill="#fff"/>
<rect x="265" y="134" width="3" height="4" fill="#fff"/>
<rect x="266" y="140" width="1" height="1" fill="#fff"/>
<rect x="130" y="130" width="1" height="3" fill="#fff"/>
<rect x="135" y="130" width="1" height="3" fill="#fff"/>
<rect x="140" y="130" width="1" height="3" fill="#fff"/>
<rect x="144" y="130" width="1" height="3" fill="#fff"/>
<rect x="149" y="130" width="1" height="3" fill="#fff"/>
<rect x="154" y="130" width="1" height="3" fill="#fff"/>
<rect x="159" y="130" width="1" height="3" fill="#fff"/>
<rect x="168" y="130" width="1" height="3" fill="#fff"/>
<rect x="173" y="130" width="1" height="3" fill="#fff"/>
<rect x="178" y="130" width="1" height="3" fill="#fff"/>
<rect x="183" y="130" width="1" height="3" fill="#fff"/>
<rect x="188" y="130" width="1" height="3" fill="#fff"/>
<rect x="193" y="130" width="1" height="3" fill="#fff"/>
<rect x="198" y="130" width="1" height="3" fill="#fff"/>
<rect x="202" y="130" width="1" height="3" fill="#fff"/>
<rect x="207" y="130" width="1" height="3" fill="#fff"/>
<rect x="212" y="130" width="1" height="3" fill="#fff"/>
<rect x="216" y="130" width="1" height="3" fill="#fff"/>
<rect x="220" y="130" width="1" height="3" fill="#fff"/>
<rect x="225" y="130" width="1" height="3" fill="#fff"/>
<rect x="234" y="130" width="1" height="3" fill="#fff"/>
<rect x="239" y="130" width="1" height="3" fill="#fff"/>
<rect x="248" y="130" width="1" height="3" fill="#fff"/>
<rect x="253" y="130" width="1" height="3" fill="#fff"/>
<rect x="262" y="130" width="1" height="3" fill="#fff"/>
<rect x="270" y="127" width="8" height="13" fill="#000"/>
<rect x="273" y="129" width="5" height="2" fill="#fff"/>
<rect x="273" y="131" width="3" height="2" fill="#fff"/>
<rect x="271" y="134" width="7" height="5" fill="#fff"/>
<rect x="278" y="127" width="3" height="15" fill="#000"/>
<rect x="281" y="127" width="7" height="16" fill="#000"/>
<rect x="281" y="128" width="6" height="5" fill="#fff"/>
<rect x="281" y="134" width="6" height="5" fill="#fff"/>
<rect x="281" y="140" width="6" height="2" fill="#fff"/>
<rect x="107" y="142" width="181" height="1" fill="#000"/>
<rect x="107" y="126" width="181" height="2" fill="#000"/>
<rect x="172" y="21" width="51" height="17" fill="#fff"/>
<rect x="173" y="21" width="49" height="17" fill="#000"/>
<rect x="175" y="23" width="44" height="12" rx="2.5" fill="#fff"/>
<text x="197.5" y="33.5" font-size="11" text-anchor="middle" >BANK 3</text>
<rect x="172" y="53" width="51" height="17" fill="#fff"/>
<rect x="173" y="53" width="49" height="17" fill="#000"/>
<rect x="175" y="55" width="44" height="12" rx="2.5" fill="#fff"/>
<text x="197.5" y="65.5" font-size="11" text-anchor="middle" >BANK 2</text>
<rect x="172" y="85" width="51" height="17" fill="#fff"/>
<rect x="173" y="85" width="49" height="17" fill="#000"/>
<rect x="175" y="87" width="44" height="12" rx="2.5" fill="#fff"/>
<text x="197.5" y="97.5" font-size="11" text-anchor="middle" >BANK 1</text>
<rect x="172" y="118" width="51" height="17" fill="#fff"/>
<rect x="173" y="118" width="49" height="17" fill="#000"/>
<rect x="175" y="120" width="44" height="12" rx="2.5" fill="#fff"/>
<text x="197.5" y="130.5" font-size="11" text-anchor="middle" >BANK 0</text>
<rect x="42" y="191" width="6" height="15" fill="#000"/>
<rect x="44" y="193" width="2" height="2" fill="#fff"/>
<rect x="43" y="196" width="4" height="1" fill="#fff"/>
<rect x="43" y="200" width="4" height="1" fill="#fff"/>
<rect x="42" y="209" width="6" height="25" fill="#000"/>
<rect x="44" y="211" width="2" height="2" fill="#fff"/>
<rect x="43" y="214" width="4" height="1" fill="#fff"/>
<rect x="43" y="218" width="4" height="1" fill="#fff"/>
<rect x="43" y="223" width="4" height="1" fill="#fff"/>
<rect x="43" y="228" width="4" height="1" fill="#fff"/>
<rect x="43" y="232" width="4" height="1" fill="#fff"/>
<rect x="42" y="237" width="6" height="11" fill="#000"/>
<rect x="43" y="242" width="4" height="1" fill="#fff"/>
<rect x="42" y="251" width="6" height="11" fill="#000"/>
<rect x="43" y="256" width="4" height="1" fill="#fff"/>
<rect x="42" y="265" width="6" height="11" fill="#000"/>
<rect x="43" y="270" width="4" height="1" fill="#fff"/>
<rect x="42" y="280" width="6" height="20" fill="#000"/>
<rect x="44" y="282" width="2" height="2" fill="#fff"/>
<rect x="43" y="285" width="4" height="1" fill="#fff"/>
<rect x="43" y="289" width="4" height="1" fill="#fff"/>
<rect x="43" y="294" width="4" height="1" fill="#fff"/>
<path d="M12,190H29V191H30V192H31V204H30V205H29V206H12V205H11V204H10V192H11V191H12Z" fill="#000"/>
<path d="M13,192H28V193H29V203H28V204H13V203H12V193H13Z" fill="#fff"/>
<path d="M29,195H33V197H39V198H42V200H39V201H33V203H29Z" fill="#000"/>
<path d="M29,198H36V199H29Z" fill="#fff"/>
<text x="20.5" y="202.5" font-size="11" text-anchor="middle" >W7</text>
<path d="M12,214H29V215H30V216H31V227H30V228H29V229H12V228H11V227H10V216H11V215H12Z" fill="#000"/>
<path d="M13,216H28V217H29V226H28V227H13V226H12V217H13Z" fill="#fff"/>
<path d="M29,217H33V219H39V220H42V222H39V223H33V225H29Z" fill="#000"/>
<path d="M29,220H36V221H29Z" fill="#fff"/>
<text x="20.5" y="225.5" font-size="11" text-anchor="middle" >J1</text>
<path d="M12,234H29V235H30V236H31V247H30V248H29V249H12V248H11V247H10V236H11V235H12Z" fill="#000"/>
<path d="M13,236H28V237H29V246H28V247H13V246H12V237H13Z" fill="#fff"/>
<path d="M29,238H33V240H39V241H42V243H39V244H33V246H29Z" fill="#000"/>
<path d="M29,241H36V242H29Z" fill="#fff"/>
<text x="20.5" y="245.5" font-size="11" text-anchor="middle" >J6</text>
<path d="M12,249H29V250H30V251H31V262H30V263H29V264H12V263H11V262H10V251H11V250H12Z" fill="#000"/>
<path d="M13,251H28V252H29V261H28V262H13V261H12V252H13Z" fill="#fff"/>
<path d="M29,253H33V255H39V256H42V258H39V259H33V261H29Z" fill="#000"/>
<path d="M29,256H36V257H29Z" fill="#fff"/>
<text x="20.5" y="260.5" font-size="11" text-anchor="middle" >J3</text>
<path d="M12,264H29V265H30V266H31V277H30V278H29V279H12V278H11V277H10V266H11V265H12Z" fill="#000"/>
<path d="M13,266H28V267H29V276H28V277H13V276H12V267H13Z" fill="#fff"/>
<path d="M29,268H33V270H39V271H42V273H39V274H33V276H29Z" fill="#000"/>
<path d="M29,271H36V272H29Z" fill="#fff"/>
<text x="20.5" y="275.5" font-size="11" text-anchor="middle" >J5</text>
<path d="M4,282H29V283H30V284H31V295H30V296H29V297H4V296H3V295H2V284H3V283H4Z" fill="#000"/>
<path d="M5,284H28V285H29V294H28V295H5V294H4V285H5Z" fill="#fff"/>
<path d="M29,286H33V288H39V289H42V291H39V292H33V294H29Z" fill="#000"/>
<path d="M29,289H36V290H29Z" fill="#fff"/>
<text x="16.5" y="293.5" font-size="11" text-anchor="middle" >J15</text>
<rect x="57" y="200" width="71" height="34" fill="#000"/>
<path d="M77,211H106L109,214V223H77Z" fill="#fff"/>
<text x="91" y="221" font-size="11.5" text-anchor="middle" textLength="23" lengthAdjust="spacingAndGlyphs">B IOS</text>
<rect x="60" y="232" width="3" height="1" fill="#fff"/>
<rect x="65" y="232" width="3" height="1" fill="#fff"/>
<rect x="70" y="232" width="3" height="1" fill="#fff"/>
<rect x="75" y="232" width="3" height="1" fill="#fff"/>
<rect x="80" y="232" width="3" height="1" fill="#fff"/>
<rect x="85" y="232" width="3" height="1" fill="#fff"/>
<rect x="90" y="232" width="3" height="1" fill="#fff"/>
<rect x="95" y="232" width="3" height="1" fill="#fff"/>
<rect x="100" y="232" width="3" height="1" fill="#fff"/>
<rect x="105" y="232" width="3" height="1" fill="#fff"/>
<rect x="110" y="232" width="3" height="1" fill="#fff"/>
<rect x="115" y="232" width="3" height="1" fill="#fff"/>
<rect x="120" y="232" width="3" height="1" fill="#fff"/>
<rect x="125" y="232" width="3" height="1" fill="#fff"/>
<rect x="57" y="239" width="71" height="34" fill="#000"/>
<path d="M77,250H106L109,253V262H77Z" fill="#fff"/>
<text x="91" y="260" font-size="11.5" text-anchor="middle" textLength="23" lengthAdjust="spacingAndGlyphs">B IOS</text>
<rect x="60" y="271" width="3" height="1" fill="#fff"/>
<rect x="65" y="271" width="3" height="1" fill="#fff"/>
<rect x="70" y="271" width="3" height="1" fill="#fff"/>
<rect x="75" y="271" width="3" height="1" fill="#fff"/>
<rect x="80" y="271" width="3" height="1" fill="#fff"/>
<rect x="85" y="271" width="3" height="1" fill="#fff"/>
<rect x="90" y="271" width="3" height="1" fill="#fff"/>
<rect x="95" y="271" width="3" height="1" fill="#fff"/>
<rect x="100" y="271" width="3" height="1" fill="#fff"/>
<rect x="105" y="271" width="3" height="1" fill="#fff"/>
<rect x="110" y="271" width="3" height="1" fill="#fff"/>
<rect x="115" y="271" width="3" height="1" fill="#fff"/>
<rect x="120" y="271" width="3" height="1" fill="#fff"/>
<rect x="125" y="271" width="3" height="1" fill="#fff"/>
<path d="M152,209H199V211H201V214H202V257H201V260H199V262H152V260H150V257H149V214H151V211H152Z" fill="#000"/>
<rect x="163" y="209" width="1" height="2" fill="#fff"/>
<rect x="188" y="209" width="1" height="2" fill="#fff"/>
<rect x="158" y="260" width="1" height="2" fill="#fff"/>
<rect x="167" y="260" width="1" height="2" fill="#fff"/>
<rect x="192" y="260" width="1" height="2" fill="#fff"/>
<rect x="149" y="220" width="2" height="1" fill="#fff"/>
<rect x="149" y="236" width="2" height="1" fill="#fff"/>
<rect x="149" y="245" width="2" height="1" fill="#fff"/>
<rect x="149" y="252" width="2" height="1" fill="#fff"/>
<rect x="200" y="218" width="2" height="1" fill="#fff"/>
<rect x="200" y="225" width="2" height="1" fill="#fff"/>
<rect x="200" y="234" width="2" height="1" fill="#fff"/>
<rect x="200" y="250" width="2" height="1" fill="#fff"/>
<path d="M402,81H449V83H451V86H452V129H451V132H449V134H402V132H400V129H399V86H401V83H402Z" fill="#000"/>
<rect x="406" y="81" width="1" height="2" fill="#fff"/>
<rect x="415" y="81" width="1" height="2" fill="#fff"/>
<rect x="431" y="81" width="1" height="2" fill="#fff"/>
<rect x="440" y="81" width="1" height="2" fill="#fff"/>
<rect x="410" y="132" width="1" height="2" fill="#fff"/>
<rect x="418" y="132" width="1" height="2" fill="#fff"/>
<rect x="435" y="132" width="1" height="2" fill="#fff"/>
<rect x="444" y="132" width="1" height="2" fill="#fff"/>
<rect x="399" y="90" width="2" height="1" fill="#fff"/>
<rect x="399" y="99" width="2" height="1" fill="#fff"/>
<rect x="399" y="115" width="2" height="1" fill="#fff"/>
<rect x="399" y="124" width="2" height="1" fill="#fff"/>
<rect x="450" y="97" width="2" height="1" fill="#fff"/>
<rect x="450" y="113" width="2" height="1" fill="#fff"/>
<rect x="450" y="122" width="2" height="1" fill="#fff"/>
<path d="M490,73H524V75H528V111H526V113H490V111H488V77H490Z" fill="#000"/>
<rect x="332" y="173" width="103" height="16" fill="#000"/>
<rect x="339" y="178" width="90" height="5" fill="#fff"/>
<rect x="443" y="173" width="161" height="16" fill="#000"/>
<rect x="482" y="178" width="116" height="5" fill="#fff"/>
<rect x="449" y="178" width="6" height="5" fill="#fff"/>
<rect x="457" y="175" width="23" height="11" fill="#fff"/>
<text x="468.5" y="184.5" font-size="11" text-anchor="middle" >SL1</text>
<text x="521" y="162" font-size="9.8" text-anchor="middle" textLength="28" lengthAdjust="spacingAndGlyphs">M3346</text>
<rect x="401" y="31" width="6" height="21" fill="#000"/>
<rect x="402" y="32" width="4" height="1" fill="#fff"/>
<rect x="403" y="34" width="2" height="1" fill="#fff"/>
<rect x="402" y="36" width="4" height="1" fill="#fff"/>
<rect x="402" y="41" width="4" height="1" fill="#fff"/>
<rect x="402" y="46" width="4" height="1" fill="#fff"/>
<rect x="402" y="50" width="4" height="1" fill="#fff"/>
<path d="M371,33H388V34H389V35H390V47H389V48H388V49H371V48H370V47H369V35H370V34H371Z" fill="#000"/>
<path d="M372,35H387V36H388V46H387V47H372V46H371V36H372Z" fill="#fff"/>
<path d="M388,37H392V39H398V40H401V42H398V43H392V45H388Z" fill="#000"/>
<path d="M388,40H395V41H388Z" fill="#fff"/>
<text x="379.5" y="45.5" font-size="11" text-anchor="middle" >J7</text>
<rect x="437" y="39" width="16" height="6" fill="#000"/>
<rect x="438" y="40" width="1" height="4" fill="#fff"/>
<rect x="440" y="41" width="1" height="2" fill="#fff"/>
<rect x="442" y="40" width="1" height="4" fill="#fff"/>
<rect x="447" y="40" width="1" height="4" fill="#fff"/>
<path d="M434,12H456V13H457V14H458V25H457V26H456V27H434V26H433V25H432V14H433V13H434Z" fill="#000"/>
<path d="M435,14H455V15H456V24H455V25H435V24H434V15H435Z" fill="#fff"/>
<path d="M441,25V29H442V35H443V39H445V35H446V29H447V25Z" fill="#000"/>
<path d="M443,25V31H444V25Z" fill="#fff"/>
<text x="445.0" y="23.5" font-size="11" text-anchor="middle" >W11</text>
<rect x="465" y="29" width="5" height="1" fill="#000"/>
<rect x="470" y="30" width="7" height="1" fill="#000"/>
<rect x="477" y="29" width="2" height="1" fill="#000"/>
<rect x="479" y="30" width="7" height="1" fill="#000"/>
<rect x="486" y="29" width="6" height="1" fill="#000"/>
<rect x="492" y="30" width="1" height="1" fill="#000"/>
<rect x="493" y="31" width="1" height="1" fill="#000"/>
<rect x="463" y="30" width="2" height="1" fill="#000"/>
<rect x="462" y="31" width="1" height="19" fill="#000"/>
<rect x="494" y="32" width="1" height="18" fill="#000"/>
<rect x="493" y="50" width="1" height="1" fill="#000"/>
<rect x="463" y="50" width="1" height="1" fill="#000"/>
<rect x="464" y="50" width="4" height="1" fill="#000"/>
<rect x="468" y="49" width="8" height="1" fill="#000"/>
<rect x="476" y="50" width="5" height="1" fill="#000"/>
<rect x="481" y="49" width="7" height="1" fill="#000"/>
<rect x="488" y="50" width="5" height="1" fill="#000"/>
<rect x="449" y="208" width="39" height="11" fill="#000"/>
<rect x="453" y="213" width="34" height="1" fill="#fff"/>
<rect x="453" y="209" width="1" height="8" fill="#fff"/>
<rect x="458" y="209" width="1" height="8" fill="#fff"/>
<rect x="462" y="209" width="1" height="8" fill="#fff"/>
<rect x="467" y="209" width="1" height="8" fill="#fff"/>
<rect x="472" y="209" width="1" height="8" fill="#fff"/>
<rect x="476" y="209" width="1" height="8" fill="#fff"/>
<rect x="481" y="209" width="1" height="8" fill="#fff"/>
<rect x="486" y="209" width="1" height="8" fill="#fff"/>
<rect x="451" y="215" width="2" height="2" fill="#fff"/>
<text x="449.5" y="205.5" font-size="11" text-anchor="middle" >2</text>
<path d="M411,205H436V206H437V207H438V217H437V218H436V219H411V218H410V217H409V207H410V206H411Z" fill="#000"/>
<path d="M412,207H435V208H436V216H435V217H412V216H411V208H412Z" fill="#fff"/>
<path d="M436,208H440V210H446V211H449V213H446V214H440V216H436Z" fill="#000"/>
<path d="M436,211H443V212H436Z" fill="#fff"/>
<text x="423.5" y="215.5" font-size="11" text-anchor="middle" >J19</text>
<rect x="591" y="224" width="10" height="39" fill="#000"/>
<rect x="595" y="225" width="1" height="37" fill="#fff"/>
<rect x="592" y="225" width="8" height="1" fill="#fff"/>
<rect x="592" y="229" width="8" height="1" fill="#fff"/>
<rect x="592" y="234" width="8" height="1" fill="#fff"/>
<rect x="592" y="239" width="8" height="1" fill="#fff"/>
<rect x="592" y="243" width="8" height="1" fill="#fff"/>
<rect x="592" y="248" width="8" height="1" fill="#fff"/>
<rect x="592" y="253" width="8" height="1" fill="#fff"/>
<rect x="592" y="257" width="8" height="1" fill="#fff"/>
<rect x="593" y="227" width="1" height="1" fill="#fff"/>
<path d="M552,231H577V232H578V233H579V244H578V245H577V246H552V245H551V244H550V233H551V232H552Z" fill="#000"/>
<path d="M553,233H576V234H577V243H576V244H553V243H552V234H553Z" fill="#fff"/>
<path d="M577,234H581V236H587V237H591V239H587V240H581V242H577Z" fill="#000"/>
<path d="M577,237H584V238H577Z" fill="#fff"/>
<text x="564.5" y="242.5" font-size="11" text-anchor="middle" >J13</text>
<path d="M659.5,47.5H669.5Q672.5,47.5 672.5,50.5V77.5Q672.5,80.5 669.5,80.5H659.5" fill="none" stroke="#000" stroke-width="1"/>
<rect x="653" y="40" width="15" height="1" fill="#000"/>
<rect x="653" y="44" width="15" height="1" fill="#000"/>
<rect x="653" y="40" width="1" height="5" fill="#000"/>
<rect x="667" y="40" width="1" height="5" fill="#000"/>
<rect x="653" y="83" width="15" height="1" fill="#000"/>
<rect x="653" y="87" width="15" height="1" fill="#000"/>
<rect x="653" y="83" width="1" height="5" fill="#000"/>
<rect x="667" y="83" width="1" height="5" fill="#000"/>
<rect x="632" y="46" width="28" height="36" fill="#000"/>
<rect x="655" y="38" width="5" height="52" fill="#000"/>
<path d="M659.5,104.5H669.5Q672.5,104.5 672.5,107.5V134.5Q672.5,137.5 669.5,137.5H659.5" fill="none" stroke="#000" stroke-width="1"/>
<rect x="653" y="97" width="15" height="1" fill="#000"/>
<rect x="653" y="101" width="15" height="1" fill="#000"/>
<rect x="653" y="97" width="1" height="5" fill="#000"/>
<rect x="667" y="97" width="1" height="5" fill="#000"/>
<rect x="653" y="140" width="15" height="1" fill="#000"/>
<rect x="653" y="144" width="15" height="1" fill="#000"/>
<rect x="653" y="140" width="1" height="5" fill="#000"/>
<rect x="667" y="140" width="1" height="5" fill="#000"/>
<rect x="632" y="103" width="28" height="36" fill="#000"/>
<rect x="655" y="95" width="5" height="52" fill="#000"/>
<rect x="655" y="92" width="2" height="3" fill="#fff"/>
<path d="M659.5,209.5H668.5Q671.5,209.5 671.5,212.5V276.5Q671.5,279.5 668.5,279.5H659.5" fill="none" stroke="#000" stroke-width="1"/>
<rect x="653" y="201" width="15" height="1" fill="#000"/>
<rect x="653" y="205" width="15" height="1" fill="#000"/>
<rect x="653" y="201" width="1" height="5" fill="#000"/>
<rect x="667" y="201" width="1" height="5" fill="#000"/>
<rect x="653" y="282" width="15" height="1" fill="#000"/>
<rect x="653" y="286" width="15" height="1" fill="#000"/>
<rect x="653" y="282" width="1" height="5" fill="#000"/>
<rect x="667" y="282" width="1" height="5" fill="#000"/>
<rect x="635" y="208" width="23" height="73" fill="#000"/>
<rect x="658" y="208" width="1" height="73" fill="#fff"/>
<rect x="655" y="199" width="3" height="90" fill="#000"/>
<rect x="659" y="1" width="1" height="414" fill="#000"/>
<rect x="641" y="57" width="25" height="15" fill="#000"/>
<rect x="641" y="59" width="23" height="11" fill="#fff"/>
<rect x="660" y="57" width="6" height="2" fill="#000"/>
<rect x="664" y="57" width="2" height="15" fill="#000"/>
<rect x="660" y="70" width="6" height="2" fill="#000"/>
<text x="652.5" y="68" font-size="11" text-anchor="middle" textLength="18" lengthAdjust="spacingAndGlyphs">CN1</text>
<rect x="641" y="114" width="25" height="15" fill="#000"/>
<rect x="641" y="116" width="23" height="11" fill="#fff"/>
<rect x="660" y="114" width="6" height="2" fill="#000"/>
<rect x="664" y="114" width="2" height="15" fill="#000"/>
<rect x="660" y="127" width="6" height="2" fill="#000"/>
<text x="652.5" y="125" font-size="11" text-anchor="middle" textLength="18" lengthAdjust="spacingAndGlyphs">CN2</text>
<rect x="641" y="237" width="25" height="15" fill="#000"/>
<rect x="641" y="239" width="23" height="11" fill="#fff"/>
<rect x="660" y="237" width="6" height="2" fill="#000"/>
<rect x="664" y="237" width="2" height="15" fill="#000"/>
<rect x="660" y="250" width="6" height="2" fill="#000"/>
<text x="652.5" y="248" font-size="11" text-anchor="middle" textLength="18" lengthAdjust="spacingAndGlyphs">CN3</text>
<rect x="627" y="314" width="33" height="1" fill="#000"/>
<rect x="627" y="345" width="33" height="1" fill="#000"/>
<rect x="627" y="314" width="1" height="32" fill="#000"/>
<rect x="659" y="314" width="1" height="32" fill="#000"/>
<rect x="654" y="314" width="6" height="32" fill="#000"/>
<path d="M632,322H655V337H632L630,335V324Z" fill="#000"/>
<rect x="633" y="324" width="21" height="11" fill="#fff"/>
<text x="643.3" y="333.5" font-size="11" text-anchor="middle" textLength="19.5" lengthAdjust="spacingAndGlyphs">CN4</text>
<rect x="654" y="357" width="5" height="40" fill="#000"/>
<rect x="635" y="362" width="20" height="30" fill="#000"/>
<rect x="633" y="367" width="2" height="20" fill="#000"/>
<rect x="629" y="369" width="5" height="1" fill="#000"/>
<rect x="629" y="375" width="5" height="1" fill="#000"/>
<rect x="629" y="369" width="1" height="7" fill="#000"/>
<rect x="633" y="369" width="1" height="7" fill="#000"/>
<rect x="629" y="378" width="5" height="1" fill="#000"/>
<rect x="629" y="384" width="5" height="1" fill="#000"/>
<rect x="629" y="378" width="1" height="7" fill="#000"/>
<rect x="633" y="378" width="1" height="7" fill="#000"/>
<rect x="86" y="307" width="44" height="44" fill="#000"/>
<rect x="86" y="307" width="1" height="1" fill="#fff"/>
<rect x="129" y="307" width="1" height="1" fill="#fff"/>
<rect x="86" y="350" width="1" height="1" fill="#fff"/>
<rect x="129" y="350" width="1" height="1" fill="#fff"/>
<rect x="93" y="307" width="1" height="4" fill="#fff"/>
<rect x="93" y="347" width="1" height="4" fill="#fff"/>
<rect x="86" y="314" width="3" height="1" fill="#fff"/>
<rect x="127" y="314" width="3" height="1" fill="#fff"/>
<rect x="98" y="307" width="1" height="4" fill="#fff"/>
<rect x="98" y="347" width="1" height="4" fill="#fff"/>
<rect x="86" y="319" width="3" height="1" fill="#fff"/>
<rect x="127" y="319" width="3" height="1" fill="#fff"/>
<rect x="103" y="307" width="1" height="4" fill="#fff"/>
<rect x="103" y="347" width="1" height="4" fill="#fff"/>
<rect x="86" y="324" width="3" height="1" fill="#fff"/>
<rect x="127" y="324" width="3" height="1" fill="#fff"/>
<rect x="107" y="307" width="1" height="4" fill="#fff"/>
<rect x="107" y="347" width="1" height="4" fill="#fff"/>
<rect x="86" y="328" width="3" height="1" fill="#fff"/>
<rect x="127" y="328" width="3" height="1" fill="#fff"/>
<rect x="112" y="307" width="1" height="4" fill="#fff"/>
<rect x="112" y="347" width="1" height="4" fill="#fff"/>
<rect x="86" y="333" width="3" height="1" fill="#fff"/>
<rect x="127" y="333" width="3" height="1" fill="#fff"/>
<rect x="117" y="307" width="1" height="4" fill="#fff"/>
<rect x="117" y="347" width="1" height="4" fill="#fff"/>
<rect x="86" y="338" width="3" height="1" fill="#fff"/>
<rect x="127" y="338" width="3" height="1" fill="#fff"/>
<rect x="122" y="307" width="1" height="4" fill="#fff"/>
<rect x="122" y="347" width="1" height="4" fill="#fff"/>
<rect x="86" y="343" width="3" height="1" fill="#fff"/>
<rect x="127" y="343" width="3" height="1" fill="#fff"/>
<path d="M89,307L92.5,310.5M86,310L89.5,313.5M127,307L123.5,310.5M130,310L126.5,313.5M89,351L92.5,347.5M86,348L89.5,344.5M127,351L123.5,347.5M130,348L126.5,344.5" stroke="#fff" stroke-width="1.1" fill="none"/>
<path d="M96,324H119V333L117,335H96Z" fill="#fff"/>
<text x="107.8" y="333" font-size="11" text-anchor="middle" textLength="20" lengthAdjust="spacingAndGlyphs">CPU</text>
<rect x="162" y="310" width="11" height="6" fill="#000"/>
<rect x="167" y="311" width="1" height="4" fill="#fff"/>
<path d="M158,283H175V284H176V285H177V296H176V297H175V298H158V297H157V296H156V285H157V284H158Z" fill="#000"/>
<path d="M159,285H174V286H175V295H174V296H159V295H158V286H159Z" fill="#fff"/>
<path d="M164,296V300H165V306H166V310H168V306H169V300H170V296Z" fill="#000"/>
<path d="M166,296V302H167V296Z" fill="#fff"/>
<text x="166.5" y="294.5" font-size="11" text-anchor="middle" >J8</text>
<rect x="151" y="322" width="53" height="52" fill="#000"/>
<rect x="163" y="334" width="29" height="30" fill="#fff"/>
<rect x="154" y="325" width="2" height="2" fill="#fff"/>
<rect x="159" y="325" width="2" height="2" fill="#fff"/>
<rect x="163" y="325" width="2" height="2" fill="#fff"/>
<rect x="168" y="325" width="2" height="2" fill="#fff"/>
<rect x="172" y="325" width="2" height="2" fill="#fff"/>
<rect x="177" y="325" width="2" height="2" fill="#fff"/>
<rect x="181" y="325" width="2" height="2" fill="#fff"/>
<rect x="186" y="325" width="2" height="2" fill="#fff"/>
<rect x="190" y="325" width="2" height="2" fill="#fff"/>
<rect x="195" y="325" width="2" height="2" fill="#fff"/>
<rect x="200" y="325" width="2" height="2" fill="#fff"/>
<rect x="154" y="330" width="2" height="2" fill="#fff"/>
<rect x="159" y="330" width="2" height="2" fill="#fff"/>
<rect x="163" y="330" width="2" height="2" fill="#fff"/>
<rect x="168" y="330" width="2" height="2" fill="#fff"/>
<rect x="172" y="330" width="2" height="2" fill="#fff"/>
<rect x="177" y="330" width="2" height="2" fill="#fff"/>
<rect x="181" y="330" width="2" height="2" fill="#fff"/>
<rect x="186" y="330" width="2" height="2" fill="#fff"/>
<rect x="190" y="330" width="2" height="2" fill="#fff"/>
<rect x="195" y="330" width="2" height="2" fill="#fff"/>
<rect x="200" y="330" width="2" height="2" fill="#fff"/>
<rect x="154" y="334" width="2" height="2" fill="#fff"/>
<rect x="159" y="334" width="2" height="2" fill="#fff"/>
<rect x="195" y="334" width="2" height="2" fill="#fff"/>
<rect x="200" y="334" width="2" height="2" fill="#fff"/>
<rect x="154" y="339" width="2" height="2" fill="#fff"/>
<rect x="159" y="339" width="2" height="2" fill="#fff"/>
<rect x="195" y="339" width="2" height="2" fill="#fff"/>
<rect x="200" y="339" width="2" height="2" fill="#fff"/>
<rect x="154" y="343" width="2" height="2" fill="#fff"/>
<rect x="159" y="343" width="2" height="2" fill="#fff"/>
<rect x="195" y="343" width="2" height="2" fill="#fff"/>
<rect x="200" y="343" width="2" height="2" fill="#fff"/>
<rect x="154" y="348" width="2" height="2" fill="#fff"/>
<rect x="159" y="348" width="2" height="2" fill="#fff"/>
<rect x="195" y="348" width="2" height="2" fill="#fff"/>
<rect x="200" y="348" width="2" height="2" fill="#fff"/>
<rect x="154" y="352" width="2" height="2" fill="#fff"/>
<rect x="159" y="352" width="2" height="2" fill="#fff"/>
<rect x="195" y="352" width="2" height="2" fill="#fff"/>
<rect x="200" y="352" width="2" height="2" fill="#fff"/>
<rect x="154" y="357" width="2" height="2" fill="#fff"/>
<rect x="159" y="357" width="2" height="2" fill="#fff"/>
<rect x="195" y="357" width="2" height="2" fill="#fff"/>
<rect x="200" y="357" width="2" height="2" fill="#fff"/>
<rect x="154" y="361" width="2" height="2" fill="#fff"/>
<rect x="159" y="361" width="2" height="2" fill="#fff"/>
<rect x="195" y="361" width="2" height="2" fill="#fff"/>
<rect x="200" y="361" width="2" height="2" fill="#fff"/>
<rect x="154" y="366" width="2" height="2" fill="#fff"/>
<rect x="159" y="366" width="2" height="2" fill="#fff"/>
<rect x="163" y="366" width="2" height="2" fill="#fff"/>
<rect x="168" y="366" width="2" height="2" fill="#fff"/>
<rect x="172" y="366" width="2" height="2" fill="#fff"/>
<rect x="177" y="366" width="2" height="2" fill="#fff"/>
<rect x="181" y="366" width="2" height="2" fill="#fff"/>
<rect x="186" y="366" width="2" height="2" fill="#fff"/>
<rect x="190" y="366" width="2" height="2" fill="#fff"/>
<rect x="195" y="366" width="2" height="2" fill="#fff"/>
<rect x="200" y="366" width="2" height="2" fill="#fff"/>
<rect x="154" y="371" width="2" height="2" fill="#fff"/>
<rect x="159" y="371" width="2" height="2" fill="#fff"/>
<rect x="163" y="371" width="2" height="2" fill="#fff"/>
<rect x="168" y="371" width="2" height="2" fill="#fff"/>
<rect x="172" y="371" width="2" height="2" fill="#fff"/>
<rect x="177" y="371" width="2" height="2" fill="#fff"/>
<rect x="181" y="371" width="2" height="2" fill="#fff"/>
<rect x="186" y="371" width="2" height="2" fill="#fff"/>
<rect x="190" y="371" width="2" height="2" fill="#fff"/>
<rect x="195" y="371" width="2" height="2" fill="#fff"/>
<rect x="200" y="371" width="2" height="2" fill="#fff"/>
<rect x="165" y="341" width="25" height="15" rx="3.5" fill="#000"/>
<rect x="167" y="343" width="21" height="11" rx="1.5" fill="#fff"/>
<text x="177.5" y="353" font-size="11" text-anchor="middle" textLength="19" lengthAdjust="spacingAndGlyphs">NPU</text>
<circle cx="166" cy="360.5" r="2.5" fill="#000"/>
<rect x="387" y="310" width="11" height="95" fill="#000"/>
<rect x="392" y="312" width="1" height="92" fill="#fff"/>
<rect x="396" y="312" width="1" height="92" fill="#fff"/>
<rect x="389" y="312" width="2" height="2" fill="#fff"/>
<rect x="388" y="315" width="9" height="1" fill="#fff"/>
<rect x="388" y="320" width="9" height="1" fill="#fff"/>
<rect x="388" y="324" width="9" height="1" fill="#fff"/>
<rect x="388" y="329" width="9" height="1" fill="#fff"/>
<rect x="388" y="334" width="9" height="1" fill="#fff"/>
<rect x="388" y="343" width="9" height="1" fill="#fff"/>
<rect x="388" y="348" width="9" height="1" fill="#fff"/>
<rect x="388" y="353" width="9" height="1" fill="#fff"/>
<rect x="388" y="357" width="9" height="1" fill="#fff"/>
<rect x="388" y="362" width="9" height="1" fill="#fff"/>
<rect x="388" y="371" width="9" height="1" fill="#fff"/>
<rect x="388" y="376" width="9" height="1" fill="#fff"/>
<rect x="388" y="385" width="9" height="1" fill="#fff"/>
<rect x="388" y="390" width="9" height="1" fill="#fff"/>
<rect x="388" y="395" width="9" height="1" fill="#fff"/>
<rect x="388" y="399" width="9" height="1" fill="#fff"/>
<rect x="404" y="324" width="10" height="81" fill="#000"/>
<rect x="408" y="326" width="1" height="78" fill="#fff"/>
<rect x="406" y="325" width="1" height="3" fill="#fff"/>
<rect x="405" y="329" width="8" height="1" fill="#fff"/>
<rect x="405" y="334" width="8" height="1" fill="#fff"/>
<rect x="405" y="338" width="8" height="1" fill="#fff"/>
<rect x="405" y="343" width="8" height="1" fill="#fff"/>
<rect x="405" y="348" width="8" height="1" fill="#fff"/>
<rect x="405" y="353" width="8" height="1" fill="#fff"/>
<rect x="405" y="357" width="8" height="1" fill="#fff"/>
<rect x="405" y="362" width="8" height="1" fill="#fff"/>
<rect x="405" y="371" width="8" height="1" fill="#fff"/>
<rect x="405" y="376" width="8" height="1" fill="#fff"/>
<rect x="405" y="385" width="8" height="1" fill="#fff"/>
<rect x="405" y="390" width="8" height="1" fill="#fff"/>
<rect x="405" y="395" width="8" height="1" fill="#fff"/>
<rect x="405" y="399" width="8" height="1" fill="#fff"/>
<path d="M349,355H374V356H375V357H376V367H375V368H374V369H349V368H348V367H347V357H348V356H349Z" fill="#000"/>
<path d="M350,357H373V358H374V366H373V367H350V366H349V358H350Z" fill="#fff"/>
<path d="M374,357H378V359H384V360H387V362H384V363H378V365H374Z" fill="#000"/>
<path d="M374,360H381V361H374Z" fill="#fff"/>
<text x="361.5" y="365.5" font-size="11" text-anchor="middle" >J16</text>
<path d="M427,385H451V386H452V387H453V398H452V399H451V400H427V399H426V398H425V387H426V386H427Z" fill="#000"/>
<path d="M428,387H450V388H451V397H450V398H428V397H427V388H428Z" fill="#fff"/>
<path d="M427,389H423V391H417V392H414V394H417V395H423V397H427Z" fill="#000"/>
<path d="M427,392H420V393H427Z" fill="#fff"/>
<text x="439.0" y="396.5" font-size="11" text-anchor="middle" >J17</text>
<rect x="437" y="368" width="5" height="16" fill="#000"/>
<rect x="439" y="370" width="2" height="2" fill="#fff"/>
<rect x="438" y="374" width="3" height="1" fill="#fff"/>
<rect x="438" y="378" width="3" height="1" fill="#fff"/>
<path d="M429,341H452V342H453V343H454V354H453V355H452V356H429V355H428V354H427V343H428V342H429Z" fill="#000"/>
<path d="M430,343H451V344H452V353H451V354H430V353H429V344H430Z" fill="#fff"/>
<path d="M436,354V358H437V364H438V368H440V364H441V358H442V354Z" fill="#000"/>
<path d="M438,354V360H439V354Z" fill="#fff"/>
<text x="440.5" y="352.5" font-size="11" text-anchor="middle" >W12</text>
<rect x="455" y="340" width="101" height="34" fill="#000"/>
<rect x="555" y="353" width="1" height="9" fill="#fff"/>
<rect x="495" y="352" width="22" height="11" fill="#fff"/>
<text x="506" y="361" font-size="10.5" text-anchor="middle" textLength="19" lengthAdjust="spacingAndGlyphs">KBD</text>
<rect x="499" y="380" width="90" height="1" fill="#000"/>
<rect x="499" y="399" width="90" height="1" fill="#000"/>
<rect x="499" y="380" width="1" height="20" fill="#000"/>
<rect x="588" y="380" width="1" height="20" fill="#000"/>
<rect x="503" y="382" width="3" height="1" fill="#000"/>
<rect x="502" y="383" width="5" height="2" fill="#000"/>
<rect x="503" y="385" width="3" height="2" fill="#000"/>
<rect x="501" y="384" width="1" height="1" fill="#000"/>
<rect x="507" y="384" width="1" height="1" fill="#000"/>
<rect x="510" y="382" width="3" height="1" fill="#000"/>
<rect x="509" y="383" width="5" height="2" fill="#000"/>
<rect x="510" y="385" width="3" height="2" fill="#000"/>
<rect x="508" y="384" width="1" height="1" fill="#000"/>
<rect x="514" y="384" width="1" height="1" fill="#000"/>
<rect x="517" y="382" width="3" height="1" fill="#000"/>
<rect x="516" y="383" width="5" height="2" fill="#000"/>
<rect x="517" y="385" width="3" height="2" fill="#000"/>
<rect x="515" y="384" width="1" height="1" fill="#000"/>
<rect x="521" y="384" width="1" height="1" fill="#000"/>
<rect x="524" y="382" width="3" height="1" fill="#000"/>
<rect x="523" y="383" width="5" height="2" fill="#000"/>
<rect x="524" y="385" width="3" height="2" fill="#000"/>
<rect x="522" y="384" width="1" height="1" fill="#000"/>
<rect x="528" y="384" width="1" height="1" fill="#000"/>
<rect x="532" y="382" width="3" height="1" fill="#000"/>
<rect x="531" y="383" width="5" height="2" fill="#000"/>
<rect x="532" y="385" width="3" height="2" fill="#000"/>
<rect x="530" y="384" width="1" height="1" fill="#000"/>
<rect x="536" y="384" width="1" height="1" fill="#000"/>
<rect x="539" y="382" width="3" height="1" fill="#000"/>
<rect x="538" y="383" width="5" height="2" fill="#000"/>
<rect x="539" y="385" width="3" height="2" fill="#000"/>
<rect x="537" y="384" width="1" height="1" fill="#000"/>
<rect x="543" y="384" width="1" height="1" fill="#000"/>
<rect x="546" y="382" width="3" height="1" fill="#000"/>
<rect x="545" y="383" width="5" height="2" fill="#000"/>
<rect x="546" y="385" width="3" height="2" fill="#000"/>
<rect x="544" y="384" width="1" height="1" fill="#000"/>
<rect x="550" y="384" width="1" height="1" fill="#000"/>
<rect x="554" y="382" width="3" height="1" fill="#000"/>
<rect x="553" y="383" width="5" height="2" fill="#000"/>
<rect x="554" y="385" width="3" height="2" fill="#000"/>
<rect x="552" y="384" width="1" height="1" fill="#000"/>
<rect x="558" y="384" width="1" height="1" fill="#000"/>
<rect x="561" y="382" width="3" height="1" fill="#000"/>
<rect x="560" y="383" width="5" height="2" fill="#000"/>
<rect x="561" y="385" width="3" height="2" fill="#000"/>
<rect x="559" y="384" width="1" height="1" fill="#000"/>
<rect x="565" y="384" width="1" height="1" fill="#000"/>
<rect x="568" y="382" width="3" height="1" fill="#000"/>
<rect x="567" y="383" width="5" height="2" fill="#000"/>
<rect x="568" y="385" width="3" height="2" fill="#000"/>
<rect x="566" y="384" width="1" height="1" fill="#000"/>
<rect x="572" y="384" width="1" height="1" fill="#000"/>
<rect x="575" y="382" width="3" height="1" fill="#000"/>
<rect x="574" y="383" width="5" height="2" fill="#000"/>
<rect x="575" y="385" width="3" height="2" fill="#000"/>
<rect x="573" y="384" width="1" height="1" fill="#000"/>
<rect x="579" y="384" width="1" height="1" fill="#000"/>
<rect x="583" y="382" width="3" height="1" fill="#000"/>
<rect x="582" y="383" width="5" height="2" fill="#000"/>
<rect x="583" y="385" width="3" height="2" fill="#000"/>
<rect x="581" y="384" width="1" height="1" fill="#000"/>
<rect x="587" y="384" width="1" height="1" fill="#000"/>
<rect x="500" y="388" width="6" height="2" fill="#000"/>
<rect x="508" y="388" width="6" height="2" fill="#000"/>
<rect x="515" y="388" width="6" height="2" fill="#000"/>
<rect x="522" y="388" width="6" height="2" fill="#000"/>
<rect x="530" y="388" width="6" height="2" fill="#000"/>
<rect x="537" y="388" width="6" height="2" fill="#000"/>
<rect x="544" y="388" width="6" height="2" fill="#000"/>
<rect x="552" y="388" width="6" height="2" fill="#000"/>
<rect x="559" y="388" width="6" height="2" fill="#000"/>
<rect x="566" y="388" width="6" height="2" fill="#000"/>
<rect x="574" y="388" width="6" height="2" fill="#000"/>
<rect x="581" y="388" width="6" height="2" fill="#000"/>
<rect x="504" y="391" width="6" height="1" fill="#000"/>
<rect x="504" y="396" width="6" height="1" fill="#000"/>
<rect x="504" y="391" width="1" height="6" fill="#000"/>
<rect x="509" y="391" width="1" height="6" fill="#000"/>
<rect x="512" y="391" width="6" height="1" fill="#000"/>
<rect x="512" y="396" width="6" height="1" fill="#000"/>
<rect x="512" y="391" width="1" height="6" fill="#000"/>
<rect x="517" y="391" width="1" height="6" fill="#000"/>
<rect x="519" y="391" width="6" height="1" fill="#000"/>
<rect x="519" y="396" width="6" height="1" fill="#000"/>
<rect x="519" y="391" width="1" height="6" fill="#000"/>
<rect x="524" y="391" width="1" height="6" fill="#000"/>
<rect x="526" y="391" width="6" height="1" fill="#000"/>
<rect x="526" y="396" width="6" height="1" fill="#000"/>
<rect x="526" y="391" width="1" height="6" fill="#000"/>
<rect x="531" y="391" width="1" height="6" fill="#000"/>
<rect x="534" y="391" width="6" height="1" fill="#000"/>
<rect x="534" y="396" width="6" height="1" fill="#000"/>
<rect x="534" y="391" width="1" height="6" fill="#000"/>
<rect x="539" y="391" width="1" height="6" fill="#000"/>
<rect x="541" y="391" width="6" height="1" fill="#000"/>
<rect x="541" y="396" width="6" height="1" fill="#000"/>
<rect x="541" y="391" width="1" height="6" fill="#000"/>
<rect x="546" y="391" width="1" height="6" fill="#000"/>
<rect x="548" y="391" width="6" height="1" fill="#000"/>
<rect x="548" y="396" width="6" height="1" fill="#000"/>
<rect x="548" y="391" width="1" height="6" fill="#000"/>
<rect x="553" y="391" width="1" height="6" fill="#000"/>
<rect x="556" y="391" width="6" height="1" fill="#000"/>
<rect x="556" y="396" width="6" height="1" fill="#000"/>
<rect x="556" y="391" width="1" height="6" fill="#000"/>
<rect x="561" y="391" width="1" height="6" fill="#000"/>
<rect x="563" y="391" width="6" height="1" fill="#000"/>
<rect x="563" y="396" width="6" height="1" fill="#000"/>
<rect x="563" y="391" width="1" height="6" fill="#000"/>
<rect x="568" y="391" width="1" height="6" fill="#000"/>
<rect x="570" y="391" width="6" height="1" fill="#000"/>
<rect x="570" y="396" width="6" height="1" fill="#000"/>
<rect x="570" y="391" width="1" height="6" fill="#000"/>
<rect x="575" y="391" width="1" height="6" fill="#000"/>
<rect x="579" y="391" width="6" height="1" fill="#000"/>
<rect x="579" y="396" width="6" height="1" fill="#000"/>
<rect x="579" y="391" width="1" height="6" fill="#000"/>
<rect x="584" y="391" width="1" height="6" fill="#000"/>
<rect x="500" y="391" width="2" height="6" fill="#000"/>
<rect x="500" y="393" width="1" height="2" fill="#fff"/>
<rect x="586" y="391" width="2" height="6" fill="#000"/>
<rect x="587" y="393" width="1" height="2" fill="#fff"/>
<ellipse cx="363" cy="472.5" rx="88.5" ry="42" fill="none" stroke="#000" stroke-width="1"/>
<rect x="372" y="454" width="11" height="5" fill="#000"/>
<rect x="377" y="455" width="1" height="3" fill="#fff"/>
<rect x="380" y="455" width="1" height="3" fill="#fff"/>
<path d="M334,448H360V449H361V450H362V462H361V463H360V464H334V463H333V462H332V450H333V449H334Z" fill="#000"/>
<path d="M335,450H359V451H360V461H359V462H335V461H334V451H335Z" fill="#fff"/>
<path d="M360,453H364V455H370V456H372V458H370V459H364V461H360Z" fill="#000"/>
<path d="M360,456H367V457H360Z" fill="#fff"/>
<text x="347.0" y="460.5" font-size="11" text-anchor="middle" >W10</text>
<text x="363.5" y="479" font-size="11" text-anchor="middle" >LOCATION UNIDENTIFIED</text>
</svg></body></html>
